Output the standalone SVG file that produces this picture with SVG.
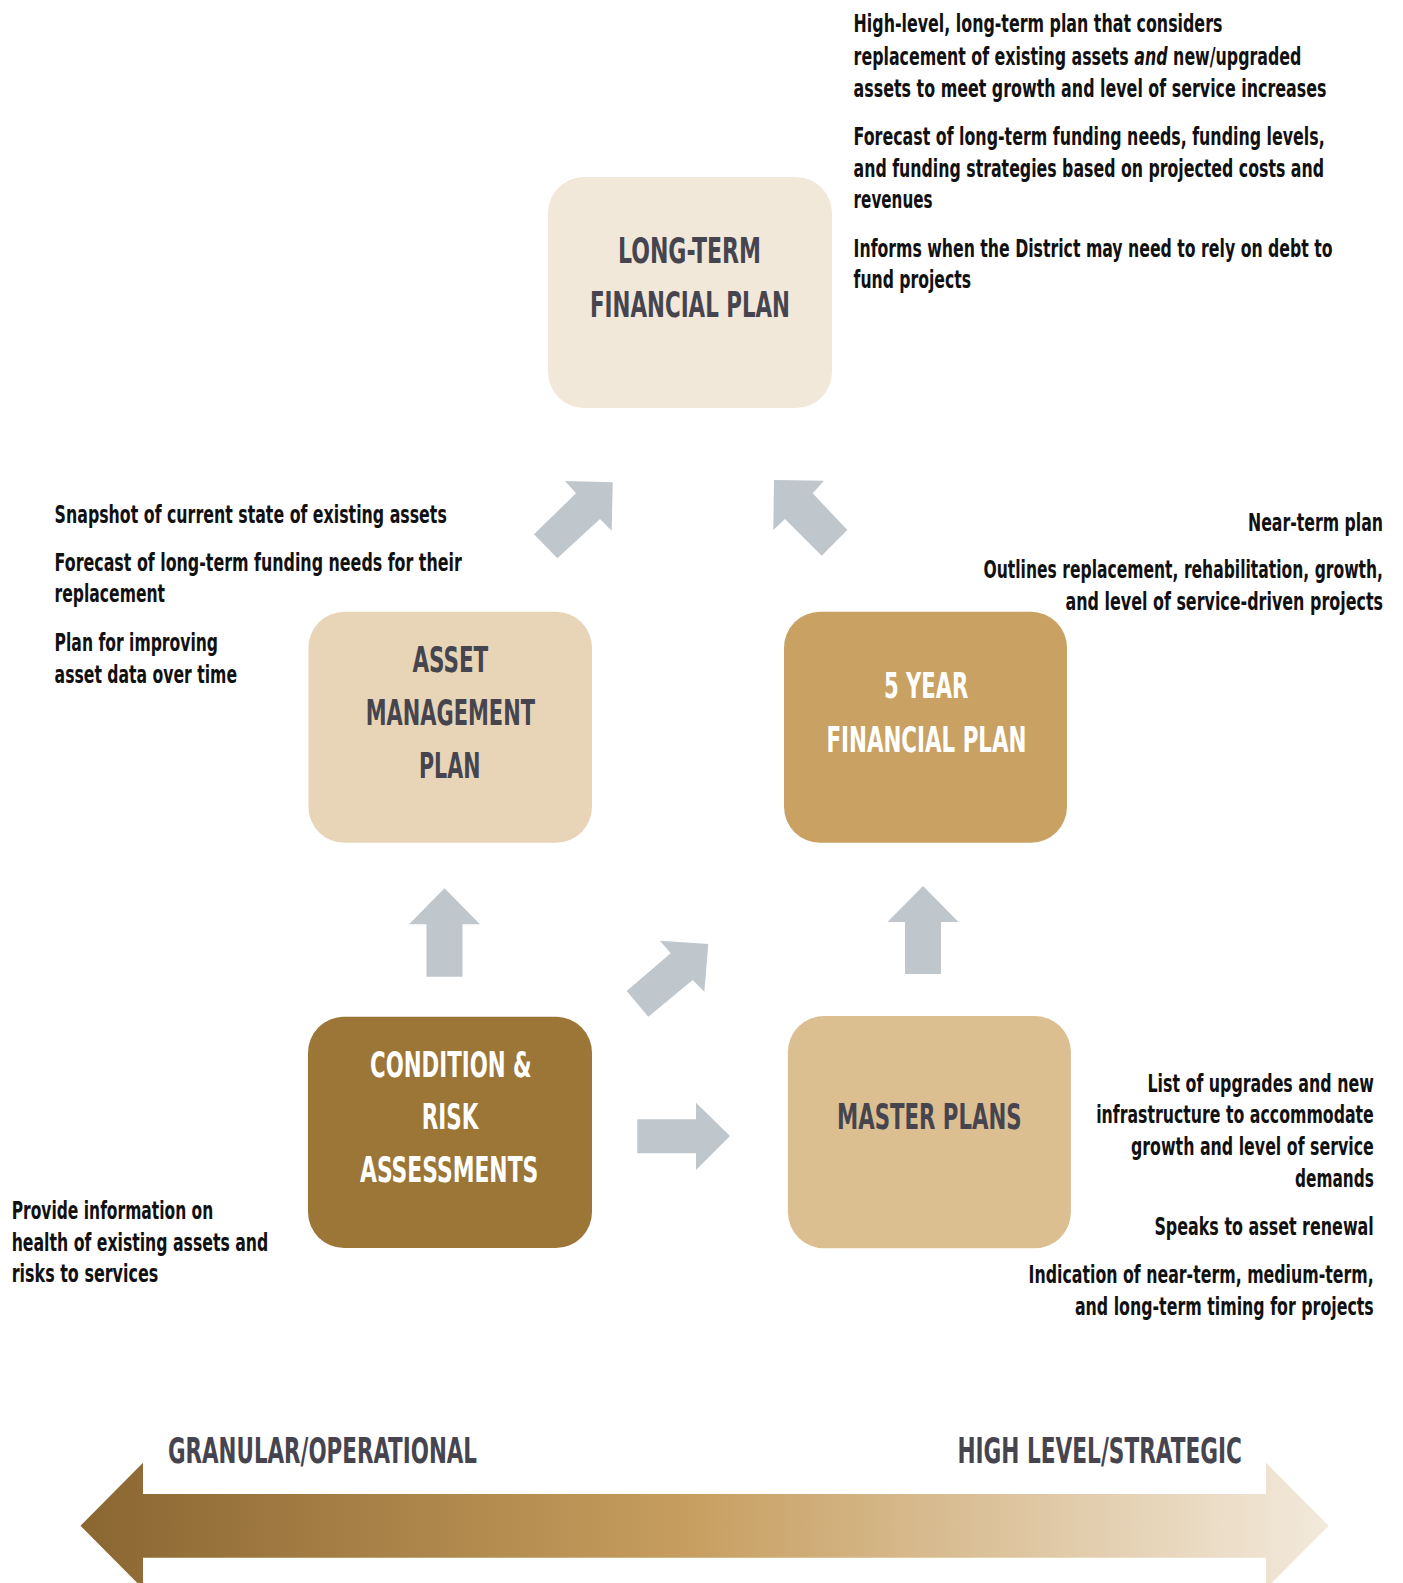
<svg xmlns="http://www.w3.org/2000/svg" width="1403" height="1583" viewBox="0 0 1403 1583">
<defs>
<style>
.t{font-family:"DejaVu Sans Condensed","DejaVu Sans","Liberation Sans",sans-serif;font-stretch:condensed;font-weight:bold;font-size:24px;fill:#111;}
.e{text-anchor:end;}
.lab{font-family:"DejaVu Sans Condensed","DejaVu Sans","Liberation Sans",sans-serif;font-stretch:condensed;font-weight:bold;font-size:35px;fill:#46454f;}
.w{fill:#ffffff;}
.arr{fill:#bfc6cc;}
</style>
<linearGradient id="scale" x1="0" y1="0" x2="1" y2="0">
<stop offset="0" stop-color="#8a6631"/>
<stop offset="0.48" stop-color="#c69d5e"/>
<stop offset="1" stop-color="#f3eadc"/>
</linearGradient>
</defs>
<rect width="1403" height="1583" fill="#ffffff"/>

<g id="connectors">
<polygon class="arr" points="565,481 612.7,482.3 611.7,530.7 600,519 557.3,558.3 534,534.3 576,493.3"/>
<polygon class="arr" points="774,480 824,480.7 812.7,493.3 847.3,530 821.7,555.7 785,519 773.3,530"/>
<polygon class="arr" points="444.5,888.3 480,924.3 462.5,924.3 462.5,976.7 426.5,976.7 426.5,924.3 409,924.3"/>
<polygon class="arr" points="923,886 958.5,922 941,922 941,974 905,974 905,922 887.5,922"/>
<polygon class="arr" points="660,940.7 708.3,944 704.3,991.7 692.7,980 648.3,1016.7 626.7,991 670.7,953.3"/>
<polygon class="arr" points="637.3,1119.3 696,1119.3 696,1102.7 730,1136 696,1170 696,1153.3 637.3,1153.3"/>
</g>

<g id="long-term-financial-plan">
<rect x="548" y="177" width="284" height="231" rx="36" fill="#f2e8da"/>
<text class="lab" x="618" y="263" textLength="143" lengthAdjust="spacingAndGlyphs">LONG-TERM</text>
<text class="lab" x="590" y="317" textLength="200" lengthAdjust="spacingAndGlyphs">FINANCIAL PLAN</text>
</g>

<g id="long-term-notes">
<text class="t e" x="1222.4" y="32.3" textLength="368.8" lengthAdjust="spacingAndGlyphs">High-level, long-term plan that considers</text>
<text class="t e" x="1301.4" y="65" textLength="447.8" lengthAdjust="spacingAndGlyphs">replacement of existing assets <tspan font-style="italic">and</tspan> new/upgraded</text>
<text class="t e" x="1326.5" y="96.7" textLength="472.9" lengthAdjust="spacingAndGlyphs">assets to meet growth and level of service increases</text>
<text class="t e" x="1324.7" y="145" textLength="471.1" lengthAdjust="spacingAndGlyphs">Forecast of long-term funding needs, funding levels,</text>
<text class="t e" x="1324" y="176.7" textLength="470.4" lengthAdjust="spacingAndGlyphs">and funding strategies based on projected costs and</text>
<text class="t" x="853.6" y="208.3" textLength="79" lengthAdjust="spacingAndGlyphs">revenues</text>
<text class="t e" x="1332.6" y="256.7" textLength="479" lengthAdjust="spacingAndGlyphs">Informs when the District may need to rely on debt to</text>
<text class="t" x="853.6" y="288.3" textLength="117.4" lengthAdjust="spacingAndGlyphs">fund projects</text>
</g>

<g id="asset-management-plan">
<rect x="308.4" y="611.7" width="283.6" height="231" rx="36" fill="#e8d5b7"/>
<text class="lab" x="412.4" y="671.7" textLength="75.9" lengthAdjust="spacingAndGlyphs">ASSET</text>
<text class="lab" x="365.7" y="725" textLength="169.3" lengthAdjust="spacingAndGlyphs">MANAGEMENT</text>
<text class="lab" x="419" y="778.3" textLength="61.4" lengthAdjust="spacingAndGlyphs">PLAN</text>
</g>

<g id="asset-management-notes">
<text class="t" x="54.6" y="522.7" textLength="392.2" lengthAdjust="spacingAndGlyphs">Snapshot of current state of existing assets</text>
<text class="t" x="54.6" y="570.7" textLength="407.2" lengthAdjust="spacingAndGlyphs">Forecast of long-term funding needs for their</text>
<text class="t" x="54.6" y="601.7" textLength="110.4" lengthAdjust="spacingAndGlyphs">replacement</text>
<text class="t" x="54.6" y="650.7" textLength="163.4" lengthAdjust="spacingAndGlyphs">Plan for improving</text>
<text class="t" x="54.6" y="682.7" textLength="182.4" lengthAdjust="spacingAndGlyphs">asset data over time</text>
</g>

<g id="five-year-financial-plan">
<rect x="784" y="611.7" width="283" height="231" rx="36" fill="#c9a263"/>
<text class="lab w" x="884" y="698.3" textLength="84.3" lengthAdjust="spacingAndGlyphs">5 YEAR</text>
<text class="lab w" x="826.4" y="751.7" textLength="200.1" lengthAdjust="spacingAndGlyphs">FINANCIAL PLAN</text>
</g>

<g id="five-year-notes">
<text class="t e" x="1383" y="530.7" textLength="135" lengthAdjust="spacingAndGlyphs">Near-term plan</text>
<text class="t e" x="1383" y="578.3" textLength="399.5" lengthAdjust="spacingAndGlyphs">Outlines replacement, rehabilitation, growth,</text>
<text class="t e" x="1383" y="610" textLength="317.5" lengthAdjust="spacingAndGlyphs">and level of service-driven projects</text>
</g>

<g id="condition-risk-assessments">
<rect x="308" y="1016.7" width="284" height="231.3" rx="36" fill="#9c7637"/>
<text class="lab w" x="370" y="1076.7" textLength="161.7" lengthAdjust="spacingAndGlyphs">CONDITION &amp;</text>
<text class="lab w" x="421.7" y="1129.3" textLength="56.6" lengthAdjust="spacingAndGlyphs">RISK</text>
<text class="lab w" x="360" y="1181.7" textLength="178.3" lengthAdjust="spacingAndGlyphs">ASSESSMENTS</text>
</g>

<g id="condition-notes">
<text class="t" x="11.7" y="1219.3" textLength="201.6" lengthAdjust="spacingAndGlyphs">Provide information on</text>
<text class="t" x="11.7" y="1251" textLength="256.6" lengthAdjust="spacingAndGlyphs">health of existing assets and</text>
<text class="t" x="11.7" y="1281.7" textLength="146.6" lengthAdjust="spacingAndGlyphs">risks to services</text>
</g>

<g id="master-plans">
<rect x="787.9" y="1016" width="283" height="232.3" rx="36" fill="#dbbf91"/>
<text class="lab" x="837" y="1129.3" textLength="184.6" lengthAdjust="spacingAndGlyphs">MASTER PLANS</text>
</g>

<g id="master-plans-notes">
<text class="t e" x="1373.8" y="1091.7" textLength="226.3" lengthAdjust="spacingAndGlyphs">List of upgrades and new</text>
<text class="t e" x="1373.8" y="1123.3" textLength="277.6" lengthAdjust="spacingAndGlyphs">infrastructure to accommodate</text>
<text class="t e" x="1373.8" y="1155" textLength="242.8" lengthAdjust="spacingAndGlyphs">growth and level of service</text>
<text class="t e" x="1373.8" y="1186.7" textLength="78.8" lengthAdjust="spacingAndGlyphs">demands</text>
<text class="t e" x="1373.8" y="1235" textLength="219.4" lengthAdjust="spacingAndGlyphs">Speaks to asset renewal</text>
<text class="t e" x="1373.8" y="1283.3" textLength="345.2" lengthAdjust="spacingAndGlyphs">Indication of near-term, medium-term,</text>
<text class="t e" x="1373.8" y="1315" textLength="298.9" lengthAdjust="spacingAndGlyphs">and long-term timing for projects</text>
</g>

<g id="scale-bar">
<polygon fill="url(#scale)" points="80.5,1525.7 143,1462.7 143,1494 1266,1494 1266,1462.7 1328.7,1525.7 1266,1588.7 1266,1557.7 143,1557.7 143,1588.7"/>
<text class="lab" x="168" y="1463.3" textLength="309" lengthAdjust="spacingAndGlyphs">GRANULAR/OPERATIONAL</text>
<text class="lab" x="957.4" y="1463.3" textLength="284.6" lengthAdjust="spacingAndGlyphs">HIGH LEVEL/STRATEGIC</text>
</g>
</svg>
